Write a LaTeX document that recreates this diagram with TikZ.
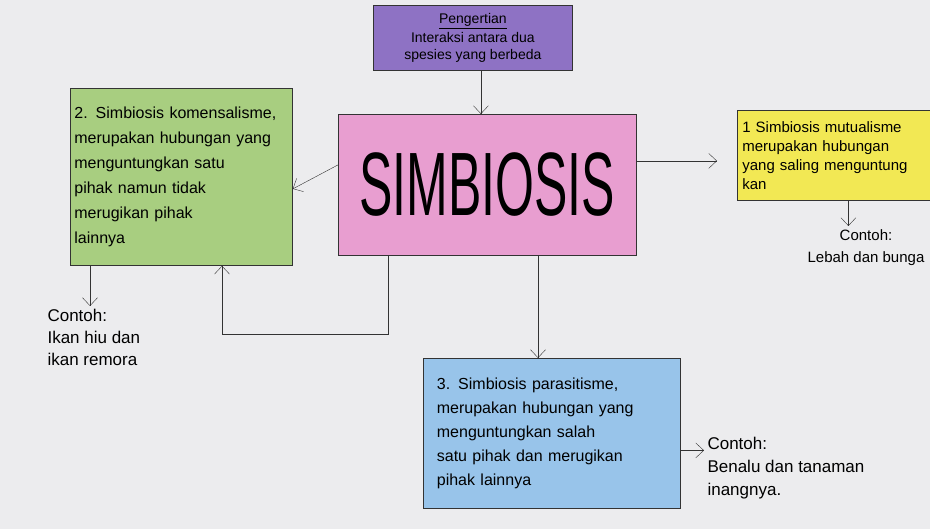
\documentclass[tikz,border=0pt]{standalone}
\usepackage{fontspec}
\setmainfont{Liberation Sans}
\usetikzlibrary{arrows.meta}
\definecolor{kertas}{RGB}{236,236,238}
\definecolor{ungu}{RGB}{142,114,196}
\definecolor{merahmuda}{RGB}{232,158,208}
\definecolor{hijau}{RGB}{168,206,128}
\definecolor{kuning}{RGB}{242,232,84}
\definecolor{biru}{RGB}{152,196,234}

\begin{document}
\begin{tikzpicture}[x=1pt,y=-1pt,
    kotak/.style={draw=black!80,thick,anchor=north west,inner xsep=5pt},
    isi/.style={font=\fontsize{16}{24}\selectfont,align=left},
    >={Straight Barb[length=8pt,width=15pt]}]
  \useasboundingbox (0,0) rectangle (930,529);
  \fill[kertas] (0,0) rectangle (930,529);
  % kotak-kotak
  \node[kotak,fill=ungu,minimum width=199pt,minimum height=65pt,font=\fontsize{14}{17}\selectfont,align=center]
    (pengertian) at (373,5) {\underline{Pengertian}\\[2pt]Interaksi antara dua\\spesies yang berbeda};
  \node[kotak,fill=merahmuda,minimum width=298pt,minimum height=141pt,font=\fontsize{50}{50}\selectfont]
    (simbiosis) at (338,114) {\scalebox{1}[1.8]{SIMBIOSIS}};
  \node[kotak,isi,fill=hijau,minimum width=222pt,minimum height=177pt,text width=214pt,inner xsep=4pt,font=\fontsize{16}{25}\selectfont]
    (komensal) at (70,88) {2. Simbiosis komensalisme,\\merupakan hubungan yang\\menguntungkan satu\\pihak namun tidak\\merugikan pihak\\lainnya};
  \node[kotak,isi,fill=kuning,minimum width=196pt,minimum height=90pt,text width=186pt,font=\fontsize{15}{19}\selectfont]
    (mutual) at (737,110) {1 Simbiosis mutualisme\\merupakan hubungan\\yang saling menguntung\\kan};
  \node[kotak,isi,fill=biru,minimum width=257pt,minimum height=150pt,text width=230pt]
    (parasit) at (423,358) {3. Simbiosis parasitisme,\\merupakan hubungan yang\\menguntungkan salah\\satu pihak dan merugikan\\pihak lainnya};
  % contoh
  \node[isi,anchor=north,align=center,font=\fontsize{15}{22}\selectfont] (contohA) at (866,226) {Contoh:\\Lebah dan bunga};
  \node[isi,anchor=north west,font=\fontsize{17}{22}\selectfont] (contohB) at (44,306) {Contoh:\\Ikan hiu dan\\ikan remora};
  \node[isi,anchor=north west,font=\fontsize{17}{23}\selectfont] (contohC) at (704,434) {Contoh:\\Benalu dan tanaman\\inangnya.};
  \coordinate (bawah) at (222,334);
  % panah
  \begin{scope}[thin,black!80]
    \draw[->] ([xshift=8pt]pengertian.south) -- ([xshift=8pt]pengertian.south |- simbiosis.north);
    \draw[->] ([yshift=20pt]simbiosis.west) -- ([yshift=-12pt]komensal.east);
    \draw[->,shorten >=20pt] ([yshift=24pt]simbiosis.east) -- ([yshift=24pt]simbiosis.east -| mutual.west);
    \draw[->] ([xshift=50pt]simbiosis.south west) |- (bawah) -- (bawah |- komensal.south);
    \draw[->] ([xshift=200pt]simbiosis.south west) -- ([xshift=200pt]simbiosis.south west |- parasit.north);
    \draw[->] ([xshift=13pt]mutual.south) -- ([xshift=13pt]mutual.south |- contohA.north);
    \draw[->] ([xshift=20pt]komensal.south west) -- ([xshift=20pt]komensal.south west |- contohB.north);
    \draw[->] ([yshift=-17pt]parasit.east) -- ([yshift=-17pt]parasit.east -| contohC.west);
  \end{scope}
\end{tikzpicture}
\end{document}
